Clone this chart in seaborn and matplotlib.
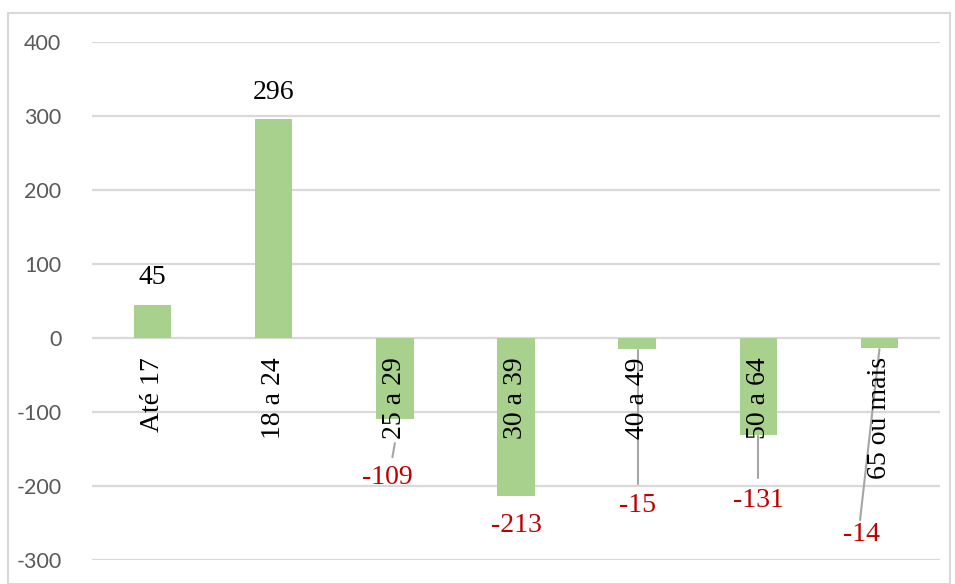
import matplotlib
matplotlib.use("Agg")
import matplotlib.pyplot as plt
import seaborn as sns
import pandas as pd
from matplotlib.patches import Rectangle

categories = ["Até 17", "18 a 24", "25 a 29", "30 a 39", "40 a 49", "50 a 64", "65 ou mais"]
values = [45, 296, -109, -213, -15, -131, -14]
y_ticks = [-300, -200, -100, 0, 100, 200, 300, 400]

# label layout (data-unit positions of value labels, x offsets in category units)
label_y = [82, 332, -188, -253, -226, -219, -266]
label_dx = [0, 0, -0.06, 0, 0, 0, -0.15]
# leader lines: (start y, end y, start dx, end dx) for labels that have them
leaders = {2: (-161, -142, -0.02, 0.0), 4: (-197, -16, 0.01, 0.01), 5: (-189, -133, 0, 0), 6: (-246, -15, -0.16, 0)}

df = pd.DataFrame({"cat": categories, "val": values})

sns.set_theme(style="white")
plt.rcParams["font.family"] = ["Liberation Serif", "DejaVu Sans"]

fig = plt.figure(figsize=(9.55, 5.84), dpi=100)
fig.patches.append(Rectangle((8 / 955, 0), 942 / 955, 571 / 584, transform=fig.transFigure,
                             fill=False, edgecolor="#D9D9D9", linewidth=1.5))
ax = fig.add_axes([92 / 955, 24 / 584, 848 / 955, 518 / 584])

sns.barplot(data=df, x="cat", y="val", color="#A9D18E", saturation=1, width=0.31,
            linewidth=0, edgecolor="none", ax=ax, zorder=3)

ax.set_ylim(-300, 400)
ax.set_xlim(-0.5, len(categories) - 0.5)
ax.set_yticks(y_ticks)
ax.set_yticklabels([str(t) for t in y_ticks], fontfamily="Lato", fontsize=15.5, color="#595959")
ax.tick_params(axis="y", length=0, pad=22)
ax.set_xticks([])
ax.set_xlabel("")
ax.set_ylabel("")
for s in ax.spines.values():
    s.set_visible(False)
ax.grid(axis="y", color="#D9D9D9", linewidth=1.6, zorder=0)
ax.set_axisbelow(True)

# category labels rotated inside plot
for i, c in enumerate(categories):
    ax.text(i, -26, c, rotation=90, ha="center", va="top", fontsize=20, color="black", zorder=5)

# value labels
for i, v in enumerate(values):
    col = "black" if v >= 0 else "#C00000"
    ax.text(i + label_dx[i], label_y[i], str(v), ha="center", va="center", fontsize=20, color=col, zorder=5)

for i, (y0, y1, dx0, dx1) in leaders.items():
    ax.plot([i + dx0, i + dx1], [y0, y1], color="#A6A6A6", linewidth=1.5, zorder=4)

fig.savefig("out.png", dpi=100)
